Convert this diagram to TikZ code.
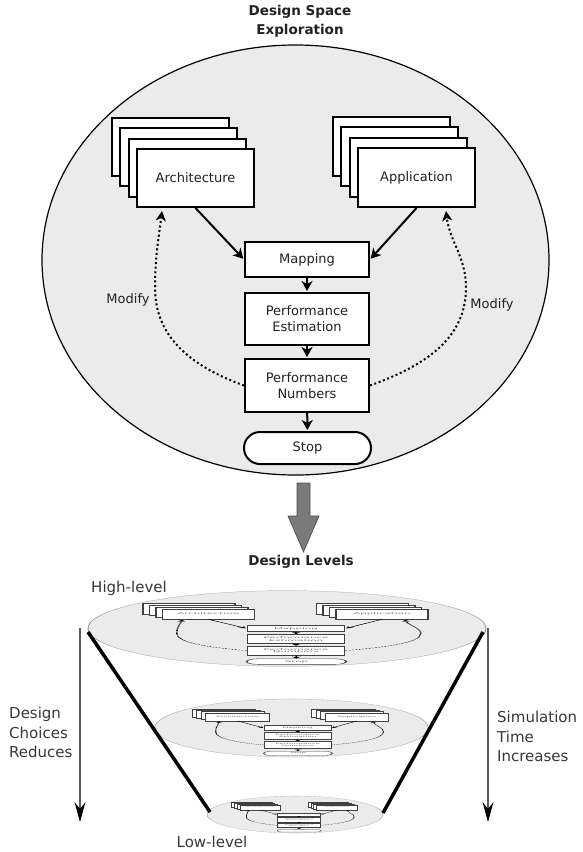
\documentclass[tikz,border=0pt]{standalone}
\usepackage{fontspec}
\setmainfont{DejaVu Sans}
\usetikzlibrary{arrows.meta,calc}

\definecolor{spacefill}{HTML}{EBEBEB}
\definecolor{inkc}{HTML}{222222}
\definecolor{bigarrowfill}{HTML}{7A7A7A}
\definecolor{levelline}{HTML}{5A5A5A}

\newif\ifmodifylabels
\modifylabelstrue

% The exploration flow: space ellipse, model stacks, flow steps and feedback loops
\newcommand{\dseflow}{%
  \path[spacerim, fill=spacefill] (295.5,260) ellipse [x radius=253.5, y radius=215];
  \coordinate (archc) at (195.5,178);
  \coordinate (appc) at (416.5,177.5);
  \foreach \k in {3,2,1} {
    \node[flowbox, minimum width=117pt, minimum height=58pt] (arch\k) at ($(archc)+(-8.3*\k,-10.3*\k)$) {};
    \node[flowbox, minimum width=117pt, minimum height=59pt] (app\k) at ($(appc)+(-8.3*\k,-10.3*\k)$) {};
  }
  \node[flowbox, minimum width=117pt, minimum height=58pt] (arch) at (archc) {Architecture};
  \node[flowbox, minimum width=117pt, minimum height=59pt] (app) at (appc) {Application};
  \node[flowbox, minimum width=124pt, minimum height=35pt] (map) at (307,259.5) {Mapping};
  \node[flowbox, minimum width=124pt, minimum height=52pt] (est) at (307,319) {Performance\\Estimation};
  \node[flowbox, minimum width=124pt, minimum height=53pt] (num) at (307,385.5) {Performance\\Numbers};
  \node[flowbox, rounded corners=16pt, minimum width=127pt, minimum height=32pt] (stop) at (307.5,448) {Stop};
  \draw[flowarrow] (arch.south) -- (map.west);
  \draw[flowarrow] (app.south) -- (map.east);
  \draw[flowarrow] (map) -- (est);
  \draw[flowarrow] (est) -- (num);
  \draw[flowarrow] (num) -- (stop);
  \coordinate (archtip) at ($(arch.south west)+(26,3)$);
  \coordinate (apptip) at ($(app.south east)+(-30,3)$);
  \coordinate (lbend) at (155,288);
  \coordinate (rbend) at (466,288);
  \draw[modarrow] (num.west) to[out=160,in=-90] (lbend) to[out=90,in=-97] (archtip);
  \draw[modarrow] (num.east) to[out=20,in=-90] (rbend) to[out=90,in=-83] (apptip);
  \ifmodifylabels
    \node[plaintext] (modl) at (128,300) {Modify};
    \node[plaintext] (modr) at (492,305) {Modify};
  \fi
}

\begin{document}
\begin{tikzpicture}[x=1pt, y=-1pt,
  spacerim/.style={draw=black, line width=1.2pt},
  flowbox/.style={draw=black, line width=2pt, fill=white, inner sep=0pt,
    align=center, text=inkc, font=\fontsize{13}{16}\selectfont},
  flowarrow/.style={line width=2pt, shorten >=1pt,
    -{Stealth[length=10pt, width=11pt, inset=3pt]}},
  modarrow/.style={line width=2pt, dash pattern=on 2pt off 2.6pt,
    -{Stealth[length=10pt, width=10pt, inset=3pt]}},
  plaintext/.style={text=inkc, inner sep=0pt, font=\fontsize{13}{16}\selectfont},
  headtext/.style={text=inkc, inner sep=0pt, align=center,
    font=\bfseries\fontsize{13.5}{19}\selectfont},
  sidetext/.style={text=inkc!90!white, inner sep=0pt, align=left,
    font=\fontsize{15}{19.5}\selectfont},
  conewall/.style={line width=3.5pt, draw=black},
  levelarrow/.style={draw=levelline, line width=1.4pt,
    -{Stealth[length=20pt, width=11pt, inset=7pt, color=black]}},
  leveldisk/.style={spacerim/.style={draw=black!40, line width=1.2pt},
    flowbox/.append style={draw=black!75, text=black!60}}]

\useasboundingbox[fill=white] (0,0) rectangle (582,852);

% Upper part: the design space exploration loop
\node[headtext] (dsetitle) at (300,21.5) {Design Space\\Exploration};
\begin{scope}[name prefix=dse-]
  \dseflow
\end{scope}

% Broad arrow leading down to the design levels
\path[fill=bigarrowfill, draw=black!70, line width=0.6pt]
  (297,483) -- (310,483) -- (310,516) -- (319,516) -- (303.5,552)
  -- (288,516) -- (297,516) -- cycle;

\node[headtext] (levels) at (301,562) {Design Levels};

% The same loop seen flat at three levels of abstraction
\modifylabelsfalse
\begin{scope}[leveldisk, name prefix=hi-, transform canvas={shift={(55.03,582.74)}, xscale=0.785, yscale=0.176}]
  \dseflow
\end{scope}
\begin{scope}[leveldisk, name prefix=mid-, transform canvas={shift={(131.93,692.9)}, xscale=0.54, yscale=0.135}]
  \dseflow
\end{scope}
\begin{scope}[leveldisk, name prefix=lo-, transform canvas={shift={(192.46,792.14)}, xscale=0.347, yscale=0.086}]
  \dseflow
\end{scope}

% Funnel walls joining the levels
\coordinate (hiL) at (88,632);
\coordinate (loL) at (210,812);
\coordinate (hiR) at (483,632);
\coordinate (loR) at (383,813);
\draw[conewall] (hiL) -- (loL);
\draw[conewall] (hiR) -- (loR);

% Trends along the descent
\coordinate (choicetop) at (80,628);
\coordinate (choicebot) at (80,822);
\coordinate (simtop) at (488,628);
\coordinate (simbot) at (488,822);
\draw[levelarrow] (choicetop) -- (choicebot);
\draw[levelarrow] (simtop) -- (simbot);

\node[sidetext, anchor=west] (choices) at (9,732.5) {Design\\Choices\\Reduces};
\node[sidetext, anchor=west] (simtime) at (497,736.5) {Simulation\\Time\\Increases};
\node[sidetext] (hilabel) at (129,588) {High-level};
\node[sidetext] (lolabel) at (212,842) {Low-level};
\end{tikzpicture}
\end{document}
